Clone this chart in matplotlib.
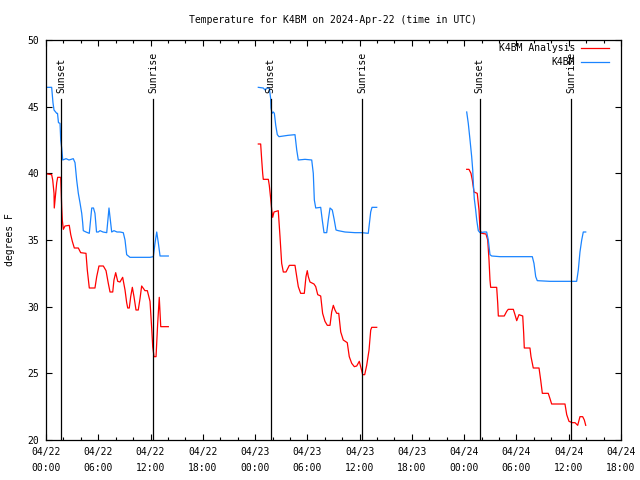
"""
Temperature for K4BM, three mornings of data, gnuplot-like look.
"""

import numpy as np
import pandas as pd
import matplotlib
matplotlib.use("Agg")
import matplotlib.pyplot as plt
import matplotlib.dates as mdates
from matplotlib.lines import Line2D

START = pd.Timestamp("2024-04-22 00:00")
END = pd.Timestamp("2024-04-24 18:00")

# hours since 04/22 00:00 UTC, temps in deg F
# --- K4BM (station) ---
k4bm_hours_d1 = [0.15, 0.65, 0.80, 0.92, 1.23, 1.32, 1.43, 1.61, 1.69, 1.80, 1.92, 2.30,
                 2.64, 3.13, 3.33, 3.52, 3.71, 3.90, 4.10, 4.21, 4.28, 4.59, 4.97, 5.25,
                 5.45, 5.62, 5.80, 6.00, 6.20, 6.54, 6.97, 7.23, 7.54, 7.80, 8.15, 8.49,
                 8.87, 9.07, 9.26, 9.64, 10.79, 11.94, 12.32, 12.51, 12.71, 12.89, 13.09, 14.04]
k4bm_temps_d1 = [46.45, 46.45, 45.3, 44.75, 44.5, 44.5, 43.8, 43.75, 42.5, 41.9, 41.0, 41.1,
                 41.0, 41.1, 40.8, 39.5, 38.5, 37.8, 37.0, 36.3, 35.7, 35.6, 35.5, 37.4,
                 37.4, 37.0, 35.6, 35.6, 35.7, 35.6, 35.55, 37.4, 35.6, 35.7, 35.6, 35.6,
                 35.55, 35.0, 33.9, 33.7, 33.7, 33.7, 33.75, 34.75, 35.6, 34.8, 33.8, 33.8]

k4bm_hours_d2 = [24.37, 24.94, 25.14, 25.33, 25.63, 25.79, 25.83, 25.94, 26.09, 26.21, 26.37,
                 26.55, 26.74, 27.78, 28.58, 28.78, 28.96, 29.73, 30.50, 30.68, 30.80, 30.96,
                 31.53, 31.71, 31.91, 32.22, 32.40, 32.60, 32.86, 33.06, 33.29, 33.55, 34.32,
                 35.47, 36.27, 36.99, 37.27, 37.42, 37.96]
k4bm_temps_d2 = [46.45, 46.4, 46.25, 46.4, 46.4, 45.6, 44.9, 44.5, 44.6, 44.5, 43.6,
                 42.9, 42.75, 42.85, 42.9, 41.75, 41.0, 41.05, 41.0, 40.0, 38.0, 37.4,
                 37.45, 36.5, 35.55, 35.55, 36.5, 37.4, 37.25, 36.6, 35.75, 35.7, 35.6,
                 35.55, 35.55, 35.5, 37.1, 37.45, 37.45]

k4bm_hours_d3 = [48.29, 48.47, 48.67, 48.86, 48.98, 49.05, 49.16, 49.32, 49.44, 49.62, 49.82,
                 50.31, 50.58, 50.77, 50.96, 51.16, 52.11, 53.26, 54.41, 55.82, 56.01, 56.21,
                 56.39, 57.85, 59.57, 60.91, 61.10, 61.29, 61.49, 61.67, 61.95]
k4bm_temps_d3 = [44.6, 43.75, 42.5, 41.25, 40.25, 39.25, 38.1, 37.25, 36.5, 35.7, 35.55,
                 35.6, 35.6, 35.0, 33.9, 33.8, 33.75, 33.75, 33.75, 33.75, 33.25, 32.25,
                 31.95, 31.9, 31.9, 31.9, 32.75, 34.1, 35.0, 35.6, 35.6]

# --- K4BM Analysis ---
ana_hours_d1 = [0.15, 0.65, 0.77, 0.92, 0.95, 1.11, 1.23, 1.34, 1.69, 1.72, 1.80, 1.87, 1.99,
                2.18, 2.67, 2.84, 3.02, 3.25, 3.71, 3.98, 4.59, 4.74, 4.97, 5.62, 5.82, 6.08,
                6.58, 6.89, 7.15, 7.35, 7.66, 7.80, 8.00, 8.23, 8.49, 8.80, 9.07, 9.26, 9.38,
                9.56, 9.72, 9.91, 10.10, 10.33, 10.59, 10.79, 10.98, 11.36, 11.63, 11.94,
                12.13, 12.25, 12.40, 12.63, 12.82, 13.00, 13.17, 14.04]
ana_temps_d1 = [39.95, 39.9, 39.5, 38.5, 37.4, 38.5, 39.3, 39.7, 39.7, 39.1, 37.5, 36.5, 35.8,
                36.05, 36.1, 35.4, 34.9, 34.4, 34.4, 34.05, 34.0, 32.75, 31.4, 31.4, 32.25, 33.05,
                33.05, 32.7, 31.75, 31.1, 31.1, 32.0, 32.55, 31.9, 31.85, 32.2, 31.25, 30.3, 29.9,
                29.9, 30.75, 31.45, 30.75, 29.75, 29.75, 30.6, 31.55, 31.2, 31.2, 30.4,
                28.4, 27.0, 26.25, 26.25, 28.75, 30.7, 28.5, 28.5]

ana_hours_d2 = [24.37, 24.64, 24.76, 24.87, 24.94, 25.52, 25.63, 25.79, 25.91, 26.02, 26.17,
                26.66, 26.86, 27.05, 27.24, 27.55, 27.93, 28.58, 28.78, 28.96, 29.23, 29.65,
                29.84, 29.99, 30.11, 30.30, 30.76, 30.96, 31.19, 31.53, 31.75, 32.02, 32.29,
                32.60, 32.79, 32.98, 33.17, 33.37, 33.60, 33.83, 34.12, 34.58, 34.81, 35.09,
                35.39, 35.66, 35.96, 36.12, 36.35, 36.58, 36.81, 37.08, 37.27, 37.39, 37.96]
ana_temps_d2 = [42.2, 42.2, 41.0, 40.0, 39.55, 39.55, 39.1, 38.1, 37.25, 36.7, 37.1,
                37.2, 35.25, 33.25, 32.6, 32.6, 33.1, 33.1, 32.25, 31.5, 31.0, 31.0,
                32.25, 32.7, 32.25, 31.85, 31.7, 31.5, 30.9, 30.8, 29.5, 28.9, 28.6,
                28.6, 29.6, 30.1, 29.75, 29.5, 29.5, 28.1, 27.5, 27.3, 26.25, 25.75,
                25.5, 25.55, 25.9, 25.5, 24.9, 24.9, 25.6, 26.75, 28.25, 28.45, 28.45]

ana_hours_d3 = [48.29, 48.55, 48.78, 48.93, 49.13, 49.32, 49.50, 49.70, 49.82, 50.01, 50.50,
                50.70, 50.85, 50.96, 51.04, 51.73, 51.85, 51.92, 52.60, 52.88, 53.06, 53.64,
                53.83, 54.03, 54.29, 54.72, 54.83, 54.90, 55.55, 55.67, 55.93, 56.59, 56.78,
                56.97, 57.65, 57.85, 58.04, 59.57, 59.77, 60.03, 60.41, 60.72, 61.03, 61.29,
                61.60, 61.79, 61.95]
ana_temps_d3 = [40.3, 40.3, 40.0, 39.5, 38.6, 38.55, 38.5, 37.25, 35.75, 35.5, 35.45,
                35.0, 33.5, 32.0, 31.45, 31.45, 30.25, 29.3, 29.3, 29.65, 29.8, 29.8,
                29.4, 28.95, 29.4, 29.3, 28.0, 26.9, 26.9, 26.25, 25.4, 25.4, 24.5,
                23.5, 23.5, 23.1, 22.7, 22.7, 21.9, 21.4, 21.3, 21.3, 21.1, 21.75,
                21.75, 21.5, 21.1]

# sun events, hours since 04/22 00:00 UTC
sunset_hours = [1.76, 25.78, 49.76]
sunrise_hours = [12.32, 36.30, 60.29]

RED = "#ff0000"
BLUE = "#1a84ff"
FONT = "DejaVu Sans Mono"
FS = 7


def to_time(hours):
    return START + pd.to_timedelta(np.asarray(hours), unit="h")


plt.rcParams["font.family"] = FONT
plt.rcParams["font.size"] = FS

fig = plt.figure(figsize=(6.4, 4.8), dpi=100)
ax = fig.add_axes([46 / 640, 40 / 480, 575 / 640, 400 / 480])

for h, t in [(ana_hours_d1, ana_temps_d1), (ana_hours_d2, ana_temps_d2), (ana_hours_d3, ana_temps_d3)]:
    ax.plot(to_time(h), t, color=RED, lw=0.9)
for h, t in [(k4bm_hours_d1, k4bm_temps_d1), (k4bm_hours_d2, k4bm_temps_d2), (k4bm_hours_d3, k4bm_temps_d3)]:
    ax.plot(to_time(h), t, color=BLUE, lw=0.9)

# sunrise / sunset markers
line_top = 45.57
for label, hours in [("Sunset", sunset_hours), ("Sunrise", sunrise_hours)]:
    for tx in to_time(hours):
        ax.plot([tx, tx], [20, line_top], color="black", lw=0.9, zorder=5)
        ax.text(tx, 46.0, label, rotation=90, ha="center", va="bottom", fontsize=FS)

ax.set_xlim(START, END)
ax.set_ylim(20, 50)
ax.set_yticks([20, 25, 30, 35, 40, 45, 50])
ax.xaxis.set_major_locator(mdates.HourLocator(byhour=[0, 6, 12, 18]))
ax.xaxis.set_minor_locator(mdates.HourLocator(byhour=range(0, 24, 2)))
ax.xaxis.set_major_formatter(mdates.DateFormatter("%m/%d\n%H:%M"))
ax.tick_params(which="both", direction="in", top=True, right=True, width=0.8)
ax.tick_params(which="major", length=4.5, pad=5, labelsize=FS)
ax.tick_params(which="minor", length=2.2)
for s in ax.spines.values():
    s.set_linewidth(0.9)

fig.text(333 / 640, 1 - 20 / 480, "Temperature for K4BM on 2024-Apr-22 (time in UTC)",
         ha="center", va="center", fontsize=FS)
fig.text(10 / 640, 0.5, "degrees F", rotation=90, ha="center", va="center", fontsize=FS)

# legend, gnuplot style (text right-aligned, sample to the right)
for i, (name, col) in enumerate([("K4BM Analysis", RED), ("K4BM", BLUE)]):
    y = 1 - (48 + 14 * i) / 480
    fig.text(575 / 640, y, name, ha="right", va="center", fontsize=FS)
    fig.add_artist(Line2D([581 / 640, 609 / 640], [y, y], color=col, lw=0.9))

fig.canvas.draw()
for lbl in ax.get_xticklabels():
    lbl.set_linespacing(1.75)

fig.savefig("out.png", dpi=100)
